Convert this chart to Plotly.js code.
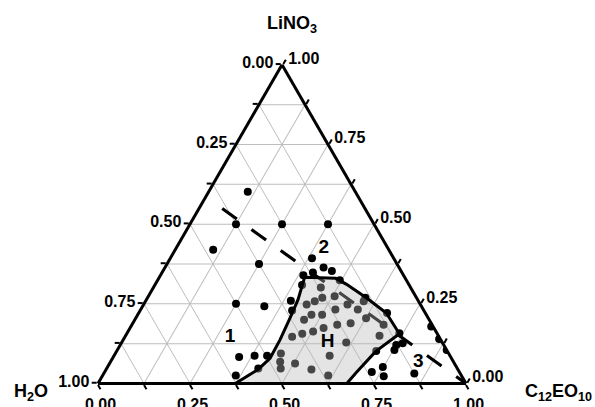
<!DOCTYPE html>
<html>
<head>
<meta charset="utf-8">
<script src="https://cdn.plot.ly/plotly-3.0.1.min.js"></script>
<style>html,body{margin:0;padding:0;background:#fff;}#chart{width:595px;height:407px;}</style>
</head>
<body>
<div id="chart"></div>
<script>
// Tick values (Plotly component value) and the labels shown in the reference
const tickVals = [0, 0.125, 0.25, 0.375, 0.5, 0.625, 0.75, 0.875, 1];
const tickText = ['1.00', '', '0.75', '', '0.50', '', '0.25', '', '0.00'];

// Sample compositions (mass fractions): LiNO3 (a) and C12EO10 (c); H2O is the remainder
const lino3Pts = [0.602,0.5,0.5,0.5,0.42,0.375,0.393,0.364,0.353,0.34,0.348,0.25,0.242,0.26,0.229,0.309,0.083,0.087,0.087,0.025,0.047,0.324,0.269,0.221,0.158,0.105,0.121,0.126,0.052,0.036,0.023,0.031,0.179,0.14,0.105,
                  0.094,0.068,0.047,0.063,0.044,0.147,0.156,0.163,0.2,0.216,0.216,0.248,0.258,0.269,0.174,0.301,0.274,0.248,0.258,0.232,0.232,0.205,0.184,0.189,0.184,0.15,0.129,0.102,0.087,0.025];
const surfPts  = [0.106,0.125,0.25,0.375,0.103,0.25,0.385,0.431,0.459,0.388,0.41,0.25,0.331,0.394,0.413,0.40,0.342,0.382,0.416,0.362,0.412,0.495,0.592,0.675,0.74,0.753,0.75,0.765,0.748,0.726,0.765,0.844,0.816,0.857,0.895,
                  0.45,0.461,0.473,0.504,0.558,0.454,0.477,0.503,0.46,0.472,0.501,0.443,0.46,0.475,0.526,0.455,0.506,0.554,0.593,0.59,0.529,0.626,0.684,0.592,0.558,0.69,0.61,0.705,0.586,0.613];

// Hexagonal (H) phase boundary
const lino3H = [0,0.044,0.079,0.137,0.206,0.263,0.333,0.330,0.311,0.268,0.221,0.156,0.1,0.035,0,0];
const surfH  = [0.373,0.413,0.428,0.426,0.419,0.412,0.395,0.481,0.520,0.596,0.673,0.741,0.704,0.685,0.676,0.373];

// Dashed tie line
const lino3Tie = [0.549, 0];
const surfTie  = [0.063, 1];

// Region labels
const regionText = ['1', '2', 'H', '3'];
const lino3Lab = [0.146, 0.425, 0.13, 0.067];
const surfLab  = [0.286, 0.401, 0.559, 0.837];

// Component (corner) names
const compNames = ['LiNO<sub>3</sub>', 'H<sub>2</sub>O', 'C<sub>12</sub>EO<sub>10</sub>'];

const FONT = 'Liberation Sans, Arial, sans-serif';

const traces = [
  {type:'scatterternary', mode:'lines', a:lino3Tie, c:surfTie, sum:1,
   line:{color:'#000', width:3.2, dash:'18px,18px'}, hoverinfo:'skip', showlegend:false},
  {type:'scatterternary', mode:'markers', a:lino3Pts, c:surfPts, sum:1,
   marker:{color:'#000', size:8, line:{width:0}}, showlegend:false},
  {type:'scatterternary', mode:'lines', a:lino3H, c:surfH, sum:1, fill:'toself',
   fillcolor:'rgba(185,185,185,0.38)',
   line:{color:'#000', width:3}, hoverinfo:'skip', showlegend:false},
  {type:'scatterternary', mode:'text', a:lino3Lab, c:surfLab, sum:1, text:regionText,
   textfont:{family:FONT, size:19, color:'#000', weight:'bold'}, hoverinfo:'skip', showlegend:false}
];

function axis() {
  return {
    title:{text:''},
    tickmode:'array', tickvals:tickVals, ticktext:tickText,
    tickfont:{family:FONT, size:16, color:'#000', weight:'bold'},
    ticks:'outside', ticklen:5, tickwidth:2, tickcolor:'#000',
    linecolor:'#000', linewidth:3, showline:true,
    showgrid:true, gridcolor:'#bdbdbd', gridwidth:1, min:0
  };
}

const titleFont = {family:FONT, size:18, color:'#000', weight:'bold'};

const layout = {
  width:595, height:407,
  margin:{l:0, r:0, t:0, b:0},
  paper_bgcolor:'#fff',
  font:{family:FONT, size:16, color:'#000', weight:'bold'},
  showlegend:false,
  ternary:{
    sum:1,
    domain:{x:[98/595, 466/595], y:[1-383.5/407, 1-64.8/407]},
    bgcolor:'#fff',
    aaxis:axis(),
    baxis:axis(),
    caxis:axis()
  },
  annotations:[
    {xref:'paper', yref:'paper', x:292/595, y:1-24/407, text:compNames[0], showarrow:false,
     xanchor:'center', yanchor:'middle', font:titleFont},
    {xref:'paper', yref:'paper', x:31/595, y:1-392/407, text:compNames[1], showarrow:false,
     xanchor:'center', yanchor:'middle', font:titleFont},
    {xref:'paper', yref:'paper', x:558/595, y:1-392/407, text:compNames[2], showarrow:false,
     xanchor:'center', yanchor:'middle', font:titleFont}
  ]
};

Plotly.newPlot('chart', traces, layout, {staticPlot:true, displayModeBar:false});
</script>
</body>
</html>
